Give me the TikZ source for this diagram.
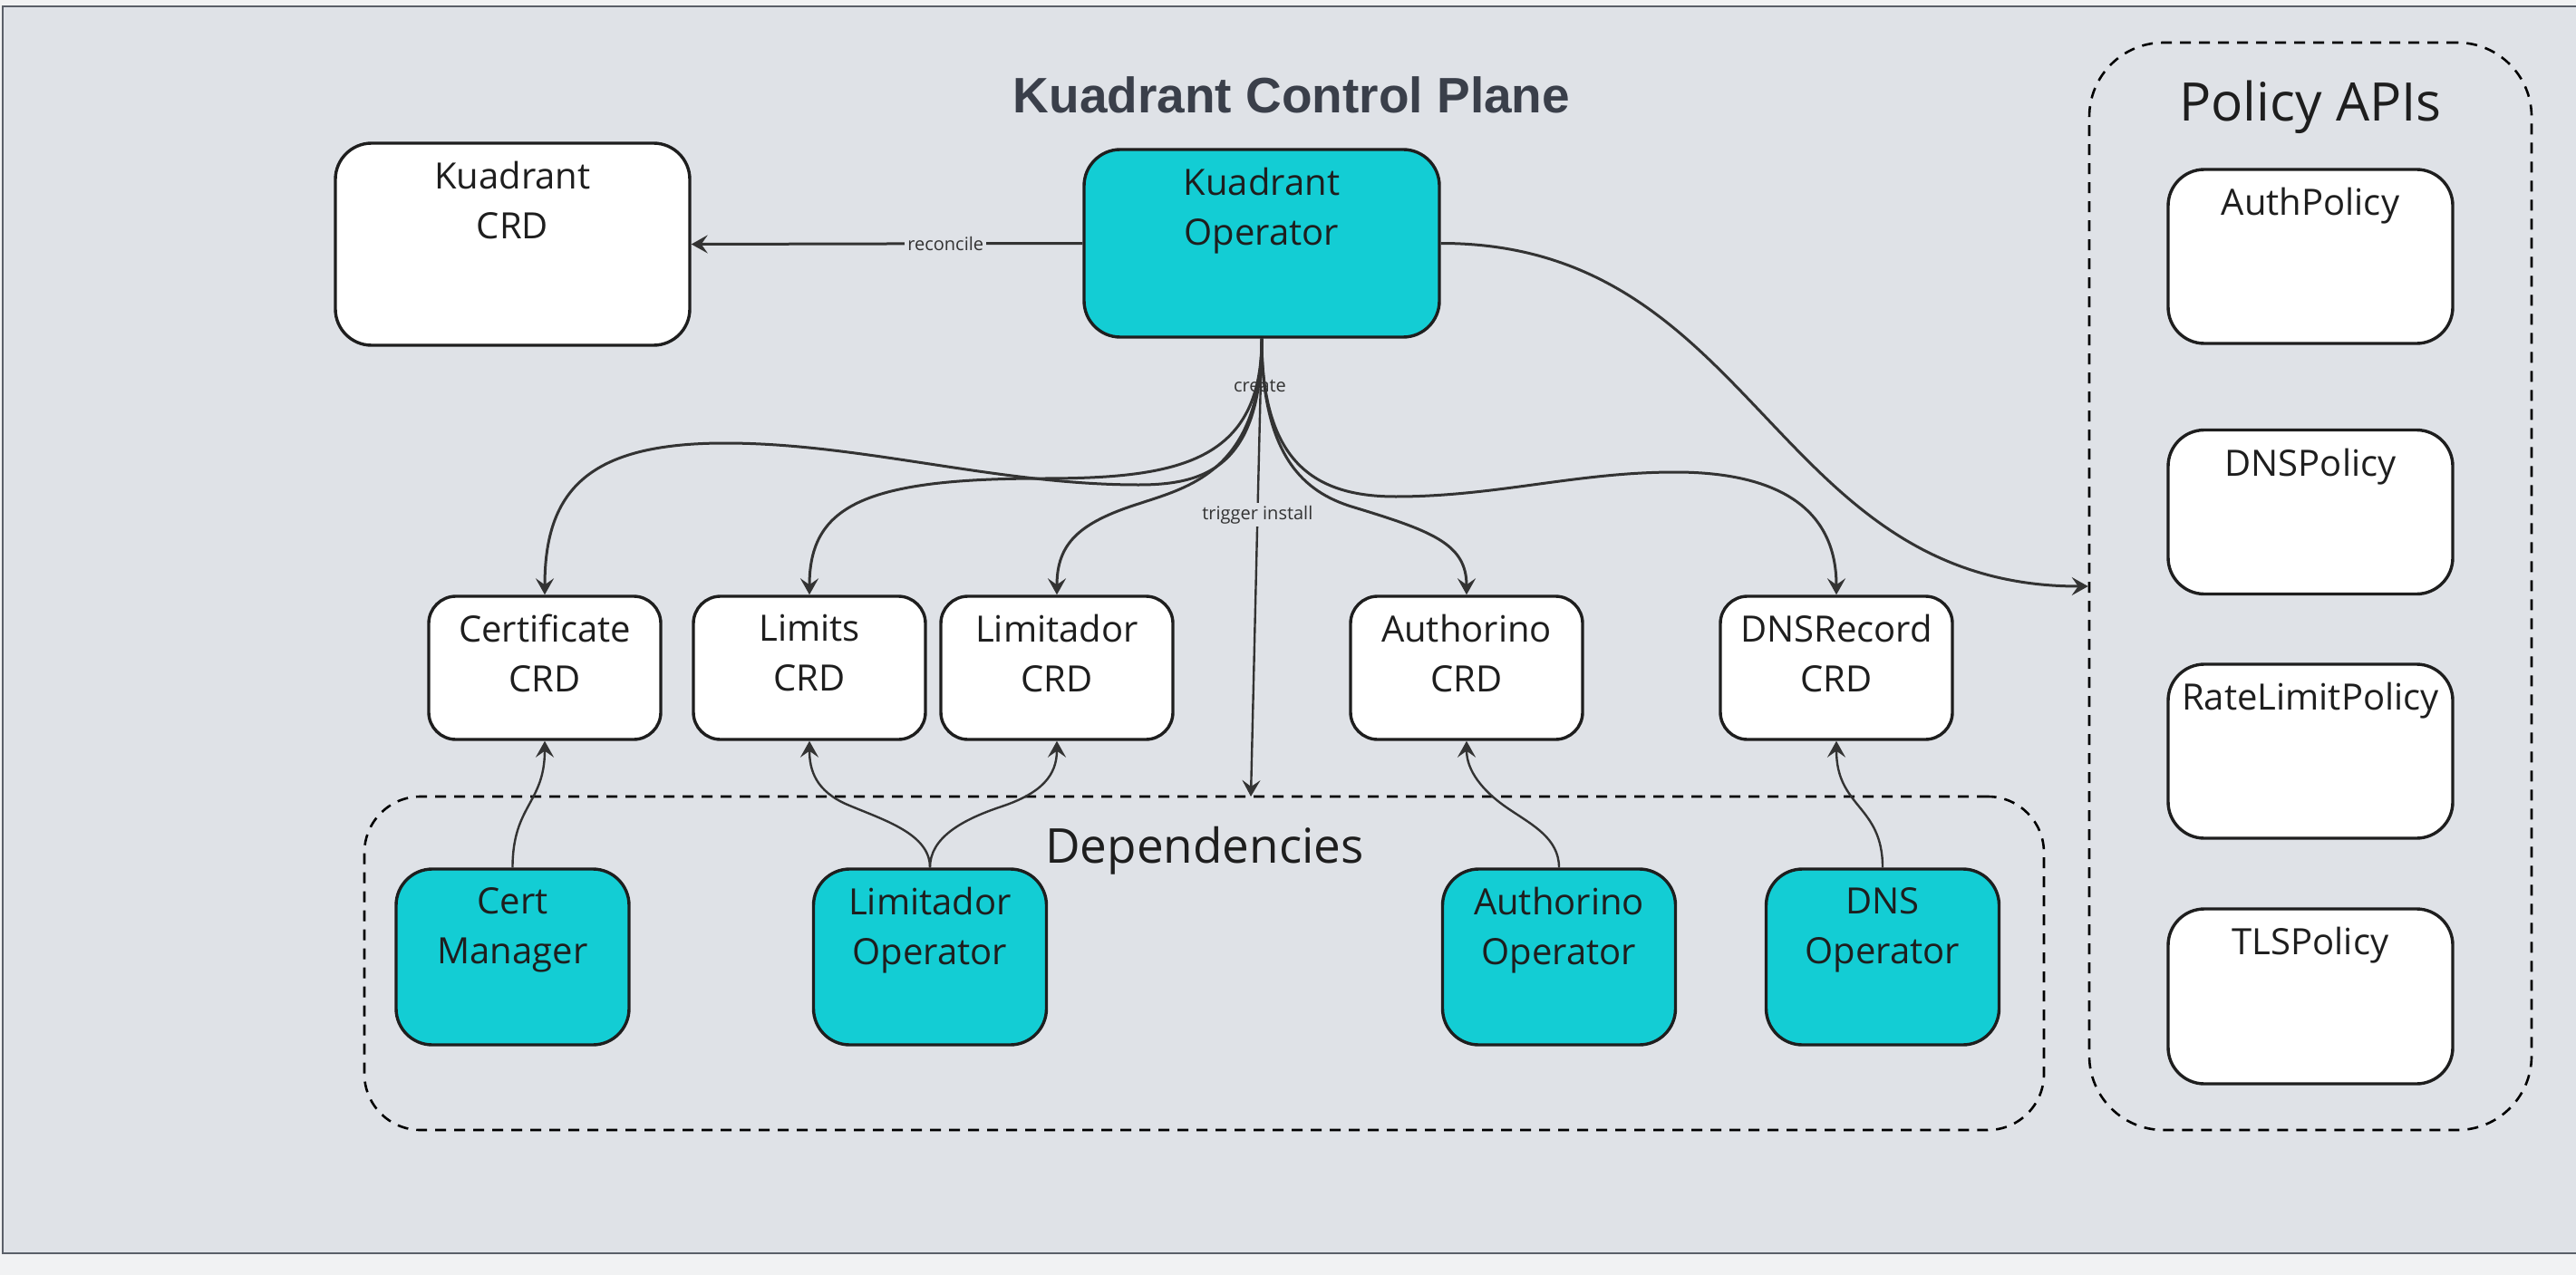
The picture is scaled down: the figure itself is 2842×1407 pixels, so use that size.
\documentclass[tikz,border=0pt]{standalone}
\usepackage{fontspec}
\setmainfont{Open Sans}
\newfontfamily\titlefont{Liberation Sans}
\usetikzlibrary{arrows.meta,positioning}

\definecolor{panel}{HTML}{DFE2E7}
\definecolor{page}{HTML}{F1F2F3}
\definecolor{frame}{HTML}{5A5F68}
\definecolor{opfill}{HTML}{13CDD4}
\definecolor{ink}{HTML}{1E1E1E}
\definecolor{wirecol}{HTML}{333333}
\definecolor{heading}{HTML}{3A3F4A}

\tikzset{
  box/.style={draw=ink, line width=1.7pt, rounded corners=20pt, fill=white, inner sep=0pt},
  crdbox/.style={box, rounded corners=15pt, minimum width=128pt, minimum height=79pt},
  opbox/.style={box, fill=opfill, minimum width=128.5pt, minimum height=97pt},
  polbox/.style={box, minimum width=157pt},
  groupbox/.style={draw=black, line width=1.3pt, dash pattern=on 6pt off 4.5pt, inner sep=0pt},
  boxtext/.style={font=\fontsize{20}{27.5}\selectfont, text=ink, align=center, inner sep=0pt},
  lbl/.style={font=\fontsize{10}{12}\selectfont, text=wirecol, inner sep=1.5pt},
  conn/.style={draw=wirecol, line width=1.5pt, -{Stealth[length=9pt, width=10pt, inset=3.5pt]}},
}

\begin{document}
\begin{tikzpicture}[x=0.5pt, y=-0.5pt]
  \useasboundingbox (0,0) rectangle (2842,1407);
  \fill[page] (0,0) rectangle (2842,1407);
  \draw[draw=frame, line width=1pt, fill=panel] (3,7) rectangle (2850,1383);

  % titles
  \node[font=\titlefont\bfseries\fontsize{27.5}{33}\selectfont, text=heading, anchor=base] (title) at (1425,125) {Kuadrant Control Plane};

  % groups
  \node[groupbox, rounded corners=41pt, minimum width=244pt, minimum height=600pt] (policies) at (2549,647) {};
  \node[groupbox, rounded corners=31pt, minimum width=926.5pt, minimum height=184pt] (deps) at (1328.5,1063) {};
  \node[font=\fontsize{29.3}{35}\selectfont, text=ink, anchor=base] (policies-t) at (2549,134) {Policy APIs};
  \node[font=\fontsize{26.5}{32}\selectfont, text=ink, anchor=base] (deps-t) at (1329,952) {Dependencies};

  % top row
  \node[box, minimum width=195.5pt, minimum height=111.5pt] (kcrd) at (565.5,269.5) {}; \node[boxtext, below=10.8pt] (kcrd-t) at (kcrd.north) {Kuadrant\\CRD};
  \node[box, fill=opfill, minimum width=196pt, minimum height=103.5pt] (kop) at (1392,268.5) {}; \node[boxtext, below=10.8pt] (kop-t) at (kop.north) {Kuadrant\\Operator};

  % CRDs
  \node[crdbox] (cert) at (601,737) {}; \node[boxtext, below=10.8pt] (cert-t) at (cert.north) {Certificate\\CRD};
  \node[crdbox] (limits) at (893,737) {}; \node[boxtext, below=10.8pt] (limits-t) at (limits.north) {Limits\\CRD};
  \node[crdbox] (limcrd) at (1166,737) {}; \node[boxtext, below=10.8pt] (limcrd-t) at (limcrd.north) {Limitador\\CRD};
  \node[crdbox] (authcrd) at (1618,737) {}; \node[boxtext, below=10.8pt] (authcrd-t) at (authcrd.north) {Authorino\\CRD};
  \node[crdbox] (dnscrd) at (2026,737) {}; \node[boxtext, below=10.8pt] (dnscrd-t) at (dnscrd.north) {DNSRecord\\CRD};

  % operators
  \node[opbox] (certmgr) at (565.5,1056) {}; \node[boxtext, below=10.8pt] (certmgr-t) at (certmgr.north) {Cert\\Manager};
  \node[opbox] (limop) at (1026,1056) {}; \node[boxtext, below=10.8pt] (limop-t) at (limop.north) {Limitador\\Operator};
  \node[opbox] (authop) at (1720,1056) {}; \node[boxtext, below=10.8pt] (authop-t) at (authop.north) {Authorino\\Operator};
  \node[opbox] (dnsop) at (2077,1056) {}; \node[boxtext, below=10.8pt] (dnsop-t) at (dnsop.north) {DNS\\Operator};

  % policies
  \node[polbox, minimum height=96pt] (authpol) at (2549,283) {}; \node[boxtext, below=10.8pt] (authpol-t) at (authpol.north) {AuthPolicy};
  \node[polbox, minimum height=90.5pt] (dnspol) at (2549,565) {}; \node[boxtext, below=10.8pt] (dnspol-t) at (dnspol.north) {DNSPolicy};
  \node[polbox, minimum height=96pt] (rlpol) at (2549,829) {}; \node[boxtext, below=10.8pt] (rlpol-t) at (rlpol.north) {RateLimitPolicy};
  \node[polbox, minimum height=96.5pt] (tlspol) at (2549,1099.5) {}; \node[boxtext, below=10.8pt] (tlspol-t) at (tlspol.north) {TLSPolicy};

  % operator links
  \draw[conn] (kop.west) -- node[lbl, fill=panel, pos=0.35] (reconcile) {reconcile} (kcrd.east);
  \draw[conn] (kop.east) .. controls +(350,0) and +(-350,0) .. (policies.west);

  \node[lbl] (create) at (1390,426) {create};
  \draw[conn] (kop.south) .. controls (1392,515) and (1330,535) .. (1256,535) .. controls (1100,535) and (950,489) .. (800,489) .. controls (650,489) and (601,540) .. (cert.north);
  \draw[conn] (kop.south) .. controls (1392,510) and (1300,528) .. (1150,528) .. controls (950,528) and (893,560) .. (limits.north);
  \draw[conn] (kop.south) .. controls (1392,520) and (1310,538) .. (1256,556) .. controls (1190,577) and (1166,600) .. (limcrd.north);
  \draw[conn] (kop.south) .. controls (1392,505) and (1440,543) .. (1491,559) .. controls (1580,586) and (1618,600) .. (authcrd.north);
  \draw[conn] (kop.south) .. controls (1392,510) and (1450,548) .. (1540,548) .. controls (1650,548) and (1740,521) .. (1848,521) .. controls (1960,521) and (2026,560) .. (dnscrd.north);

  \coordinate (install) at (1380,879);
  \draw[conn, line width=1.2pt] (kop.south) -- node[lbl, fill=panel, pos=0.385] (trigger) {trigger install} (install);

  % dependency links
  \draw[conn, line width=1.2pt] (certmgr.north) .. controls +(0,-69) and +(0,69) .. (cert.south);
  \draw[conn, line width=1.2pt] (limop.north) .. controls (1026,920) and (975,905) .. (935,888) .. controls (900,873) and (893,850) .. (limits.south);
  \draw[conn, line width=1.2pt] (limop.north) .. controls (1026,925) and (1060,905) .. (1105,890) .. controls (1150,875) and (1166,855) .. (limcrd.south);
  \draw[conn, line width=1.2pt] (authop.north) .. controls (1720,925) and (1690,910) .. (1665,893) .. controls (1635,873) and (1618,850) .. (authcrd.south);
  \draw[conn, line width=1.2pt] (dnsop.north) .. controls +(0,-69) and +(0,74) .. (dnscrd.south);
\end{tikzpicture}
\end{document}
